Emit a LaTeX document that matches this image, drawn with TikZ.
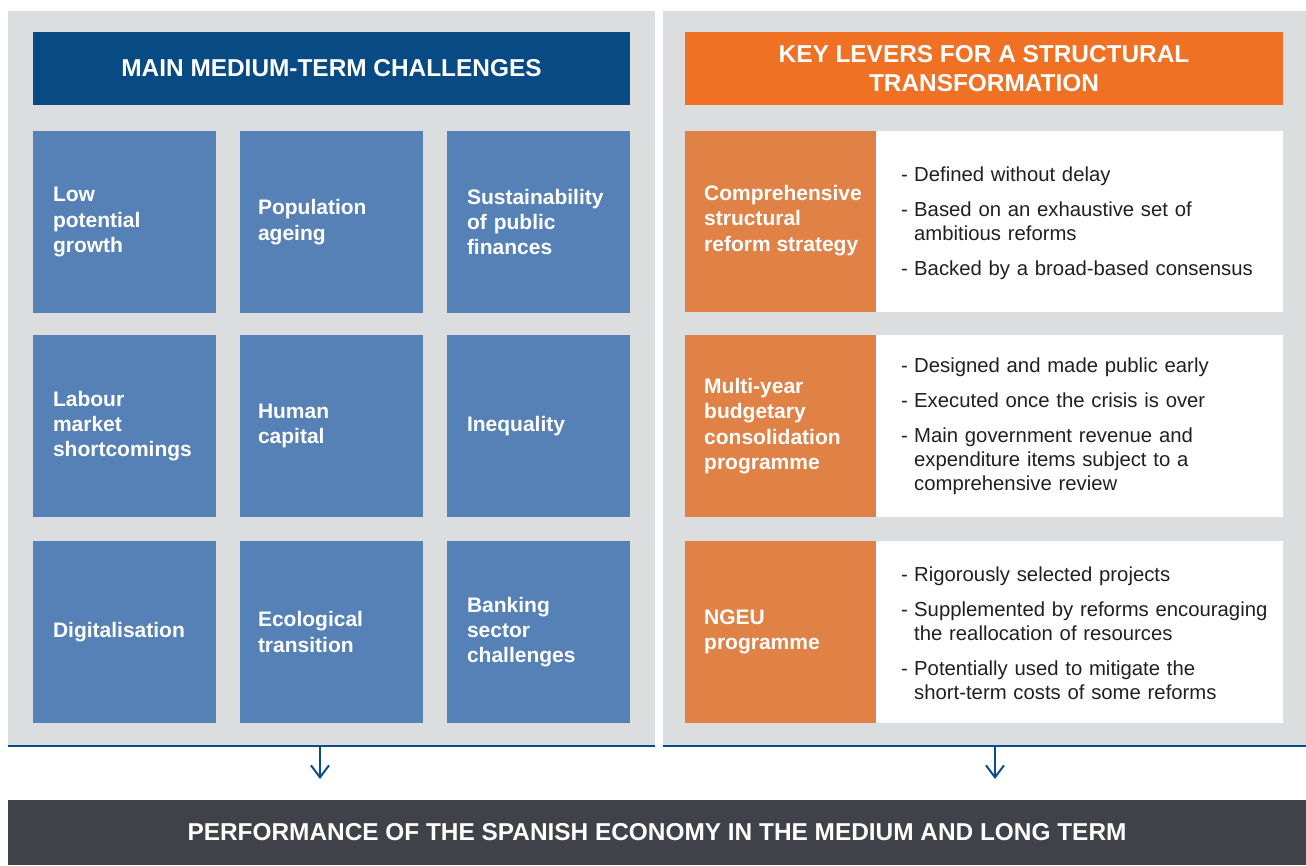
\documentclass[tikz,border=0pt]{standalone}
\usepackage{fontspec}
\setmainfont{Liberation Sans}
\usetikzlibrary{arrows.meta}
\definecolor{panelgray}{HTML}{DCDDDF}
\definecolor{hdrblue}{HTML}{084A83}
\definecolor{tileblue}{HTML}{5681B7}
\definecolor{hdrorange}{HTML}{F07124}
\definecolor{lblorange}{HTML}{E08146}
\definecolor{bardark}{HTML}{414149}
\definecolor{lineblue}{HTML}{0A4C8A}
\definecolor{bodytext}{HTML}{231F20}
\newcommand{\bitem}[1]{\par\noindent\makebox[13pt][l]{-}\parbox[t]{355pt}{\raggedright #1\par\xdef\tpd{\the\prevdepth}}\par\prevdepth=\tpd\relax}
\tikzset{
  box/.style={draw=none, outer sep=0pt, inner sep=0pt, anchor=north west},
  panelbox/.style={box, fill=panelgray},
  hdrtext/.style={text=white, font=\fontsize{24.4}{29}\selectfont\bfseries, align=center},
  tile/.style={box, fill=tileblue, minimum width=183pt, minimum height=182pt,
    text width=143pt, inner xsep=20pt, align=left, text=white,
    font=\fontsize{21}{25.3}\selectfont\bfseries},
  lblbox/.style={box, fill=lblorange, minimum width=191pt},
  whitebox/.style={box, fill=white, minimum width=407pt},
  lbltext/.style={anchor=west, inner sep=0pt, align=left, text=white,
    font=\fontsize{21}{25.5}\selectfont\bfseries},
  bodytxt/.style={anchor=west, inner sep=0pt, text width=370pt, align=left, text=bodytext,
    font=\fontsize{20.3}{24}\selectfont},
  bline/.style={draw=lineblue, line width=2.3pt},
  arr/.style={draw=lineblue, line width=2pt, -{Straight Barb[length=12pt,width=18pt,line width=2pt]}}
}
\begin{document}
\begin{tikzpicture}[x=1pt,y=-1pt]
\useasboundingbox (0,0) rectangle (1306,865);
\fill[white] (0,0) rectangle (1306,865);

% panels
\node[panelbox, minimum width=647pt, minimum height=735pt] (lp) at (8,11) {};
\node[panelbox, minimum width=643pt, minimum height=735pt] (rp) at (663,11) {};
\draw[bline] (lp.south west) -- (lp.south east);
\draw[bline] (rp.south west) -- (rp.south east);

% headers
\node[box, fill=hdrblue, minimum width=597pt, minimum height=73pt, hdrtext] (lh) at (33,32)
  {MAIN MEDIUM-TERM CHALLENGES};
\node[box, fill=hdrorange, minimum width=598pt, minimum height=73pt, hdrtext] (rh) at (685,32)
  {KEY LEVERS FOR A STRUCTURAL\\TRANSFORMATION};

% challenge tiles
\node[tile] (t11) at (33,131) {Low\\potential\\growth};
\node[tile, inner xsep=18pt, text width=147pt] (t12) at (240,131) {Population\\ageing};
\node[tile] (t13) at (447,131) {Sustainability\\of public\\finances};
\node[tile] (t21) at (33,335) {Labour\\market\\shortcomings};
\node[tile, inner xsep=18pt, text width=147pt] (t22) at (240,335) {Human\\capital};
\node[tile] (t23) at (447,335) {Inequality};
\node[tile] (t31) at (33,541) {Digitalisation};
\node[tile, inner xsep=18pt, text width=147pt] (t32) at (240,541) {Ecological\\transition};
\node[tile] (t33) at (447,541) {Banking\\sector\\challenges};

% levers
\node[lblbox, minimum height=181pt] (l1) at (685,131) {};
\node[whitebox, minimum height=181pt] (w1) at (876,131) {};
\node[lbltext] (l1t) at ([xshift=19pt,yshift=1pt]l1.west) {Comprehensive\\structural\\reform strategy};
\node[bodytxt] (w1t) at ([xshift=25pt,yshift=3pt]w1.west) {%
\bitem{Defined without delay}\vspace{11pt}%
\bitem{Based on an exhaustive set of\\ambitious reforms}\vspace{11pt}%
\bitem{Backed by a broad-based consensus}};

\node[lblbox, minimum height=182pt] (l2) at (685,335) {};
\node[whitebox, minimum height=182pt] (w2) at (876,335) {};
\node[lbltext] (l2t) at ([xshift=19pt]l2.west) {Multi-year\\budgetary\\consolidation\\programme};
\node[bodytxt] (w2t) at ([xshift=25pt,yshift=4pt]w2.west) {%
\bitem{Designed and made public early}\vspace{11pt}%
\bitem{Executed once the crisis is over}\vspace{11pt}%
\bitem{Main government revenue and\\expenditure items subject to a\\comprehensive review}};

\node[lblbox, minimum height=182pt] (l3) at (685,541) {};
\node[whitebox, minimum height=182pt] (w3) at (876,541) {};
\node[lbltext] (l3t) at ([xshift=19pt]l3.west) {NGEU\\programme};
\node[bodytxt] (w3t) at ([xshift=25pt,yshift=3pt]w3.west) {%
\bitem{Rigorously selected projects}\vspace{11pt}%
\bitem{Supplemented by reforms encouraging\\the reallocation of resources}\vspace{11pt}%
\bitem{Potentially used to mitigate the\\short-term costs of some reforms}};

% bottom bar
\node[box, fill=bardark, minimum width=1298pt, minimum height=65pt, hdrtext] (bar) at (8,800)
  {PERFORMANCE OF THE SPANISH ECONOMY IN THE MEDIUM AND LONG TERM};

% arrows
\coordinate (la) at (320,747);
\coordinate (ra) at (995,747);
\draw[arr, shorten >=21pt] (la) -- (la |- bar.north);
\draw[arr, shorten >=21pt] (ra) -- (ra |- bar.north);
\end{tikzpicture}
\end{document}
